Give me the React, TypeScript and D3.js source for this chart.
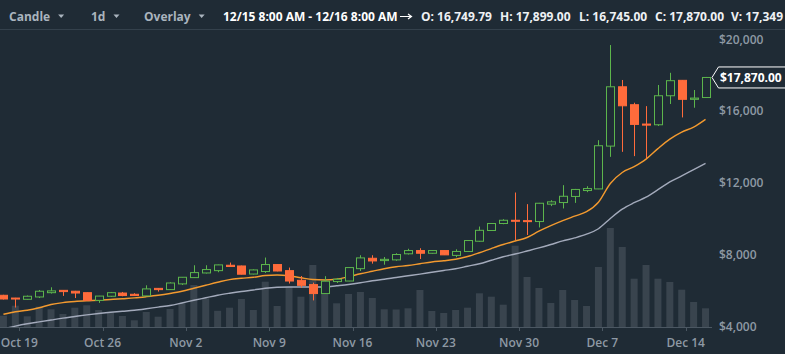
import React, { useEffect, useRef } from 'react';
import * as d3 from 'd3';

const W = 785;
const H = 354;

// daily candles, Oct 17 - Dec 15 2017
const firstDay = new Date(Date.UTC(2017, 9, 17));

const opens = [
  5714, 5560, 5490, 5620, 5860, 5990, 5940, 5860, 5430, 5660,
  5840, 5770, 5680, 6100, 6030, 6350, 6700, 6960, 7090, 7390,
  7350, 6900, 7040, 7430, 7090, 6550, 6310, 5810, 6480, 6510,
  7200, 7780, 7650, 7690, 8030, 8210, 8060, 8210, 7940, 8160,
  8730, 9330, 9720, 9900, 9880, 9830, 10800, 10890, 11230, 11560,
  11650, 14040, 17350, 16350, 15270, 15230, 16850, 17710, 16650, 16749.79,
];
const highs = [
  5740, 5570, 5700, 6010, 6160, 6000, 5960, 5870, 5680, 5900,
  5900, 5830, 6270, 6120, 6440, 6730, 7390, 7390, 7420, 7540,
  7370, 7160, 7820, 7450, 7260, 6790, 6420, 6780, 6680, 7280,
  7950, 7950, 7850, 8060, 8310, 8340, 8240, 8230, 8280, 8790,
  9550, 9740, 9960, 11450, 10800, 10870, 11020, 11860, 11650, 11800,
  14370, 19680, 17730, 16460, 16270, 17450, 18130, 17720, 17170, 17899,
];
const lows = [
  5480, 5030, 5470, 5560, 5810, 5680, 5560, 5420, 5290, 5620,
  5660, 5690, 5670, 5920, 6020, 6290, 6690, 6930, 7000, 7300,
  6880, 6880, 6960, 7050, 6370, 6140, 5430, 5800, 6400, 6500,
  7070, 7480, 7420, 7640, 7990, 7740, 8040, 7960, 7840, 8150,
  8700, 9320, 9680, 8790, 9080, 9500, 10690, 10560, 10870, 11470,
  11640, 13440, 13720, 13480, 13370, 15160, 16390, 15640, 16180, 16745,
];
const closes = [
  5507, 5510, 5660, 5940, 5960, 5920, 5840, 5430, 5670, 5860,
  5700, 5700, 6070, 6030, 6400, 6720, 6980, 7150, 7410, 7320,
  6890, 7130, 7430, 7070, 6510, 6270, 5810, 6500, 6610, 7260,
  7800, 7630, 7720, 7990, 8210, 8060, 8210, 7970, 8160, 8770,
  9340, 9720, 9900, 9860, 9830, 10850, 10930, 11240, 11620, 11670,
  14060, 17350, 16290, 15250, 15210, 16850, 17690, 16650, 16720, 17870,
];
const volumes = [
  10490, 19770, 9930, 18840, 16430, 12060, 17910, 20140, 15780, 13270,
  10210, 6220, 13920, 9560, 16700, 21990, 38980, 26630, 15030, 17910,
  25980, 15780, 42040, 19490, 37400, 28120, 57540, 42040, 21990, 30620,
  32480, 26910, 16430, 16240, 17350, 34340, 14850, 12990, 15780, 17910,
  31270, 28120, 20690, 75450, 46400, 36190, 22270, 34340, 25060, 19490,
  55680, 91870, 74240, 44820, 57540, 44820, 41760, 34610, 23200, 17349,
];
// moving averages as drawn on the chart
const maFast = [
  4653, 4792, 4876, 5016, 5200, 5306, 5368, 5407, 5435, 5479,
  5524, 5569, 5636, 5714, 5815, 5938, 6105, 6273, 6440, 6591,
  6664, 6720, 6815, 6848, 6803, 6692, 6591, 6569, 6608, 6748,
  6915, 7055, 7195, 7306, 7373, 7474, 7575, 7642, 7725, 7876,
  8089, 8323, 8547, 8742, 8938, 9290, 9597, 9876, 10128, 10379,
  10910, 11955, 12569, 12893, 13312, 13899, 14430, 14821, 15100, 15530,
];
const maSlow = [
  3842, 3993, 4122, 4228, 4334, 4440, 4530, 4619, 4697, 4764,
  4820, 4876, 4960, 5055, 5144, 5284, 5435, 5574, 5714, 5826,
  5926, 6010, 6105, 6161, 6178, 6178, 6178, 6178, 6245, 6317,
  6412, 6524, 6608, 6709, 6803, 6898, 6999, 7100, 7195, 7335,
  7474, 7670, 7865, 8016, 8184, 8357, 8547, 8748, 8915, 9122,
  9429, 9999, 10519, 10882, 11189, 11608, 12044, 12379, 12726, 13072,
];

const priceTicks = [4000, 8000, 12000, 16000, 20000];
const toolbarItems = ['Candle', '1d', 'Overlay'];
const rangeLabel = '12/15 8:00 AM - 12/16 8:00 AM';
const ohlcvLabels = ['O: 16,749.79', 'H: 17,899.00', 'L: 16,745.00', 'C: 17,870.00', 'V: 17,349'];

const BG = '#1f2b35';
const GREEN = '#5cb54c';
const RED = '#ff6b3b';
const FONT = '"Open Sans", "DejaVu Sans", sans-serif';

export default function App() {
  const ref = useRef<SVGSVGElement>(null);

  useEffect(() => {
    const svg = d3.select(ref.current);
    svg.selectAll('*').remove();

    const plotRight = 712;
    const plotTop = 30;
    const plotBottom = 327;

    const days = d3.range(opens.length).map(i => d3.utcDay.offset(firstDay, i));
    const x = d3.scaleUtc()
      .domain([new Date(Date.UTC(2017, 9, 19)), new Date(Date.UTC(2017, 11, 14))])
      .range([19.3, 685.7]);
    const cx = (i: number) => x(d3.utcHour.offset(days[i], 16));
    const y = d3.scaleLinear().domain([4000, 20000]).range([326, 39.3]);
    const yVol = d3.scaleLinear().domain([0, 92800]).range([plotBottom, plotBottom - 100]);

    svg.append('rect').attr('width', W).attr('height', H).attr('fill', BG);

    svg.append('defs').append('clipPath').attr('id', 'plot')
      .append('rect')
      .attr('x', 0).attr('y', plotTop)
      .attr('width', plotRight).attr('height', plotBottom - plotTop);

    // toolbar
    const bar = svg.append('g')
      .attr('font-family', FONT).attr('font-size', 12).attr('font-weight', 700);
    bar.append('line')
      .attr('x1', 0).attr('x2', W).attr('y1', 29.5).attr('y2', 29.5)
      .attr('stroke', '#34414c');

    const toolX = [9, 91, 144];
    toolbarItems.forEach((t, i) => {
      const txt = bar.append('text')
        .attr('x', toolX[i]).attr('y', 20.5)
        .attr('fill', '#aab4be').text(t);
      const end = toolX[i] + (txt.node() as SVGTextElement).getComputedTextLength() + 8;
      bar.append('path')
        .attr('d', `M${end},14.5 L${end + 6},14.5 L${end + 3},18 Z`)
        .attr('fill', '#aab4be');
    });

    bar.append('text').attr('x', 223).attr('y', 20.5).attr('fill', '#ffffff').text(rangeLabel);
    bar.append('path')
      .attr('d', 'M400,16.5 H411 M408,14 L411.5,16.5 L408,19')
      .attr('stroke', '#ffffff').attr('stroke-width', 1.2).attr('fill', 'none');

    const ohlcX = [421, 500, 579, 655, 731];
    ohlcvLabels.forEach((t, i) => {
      bar.append('text').attr('x', ohlcX[i]).attr('y', 20.5).attr('fill', '#eef1f4').text(t);
    });

    // volume
    const plot = svg.append('g').attr('clip-path', 'url(#plot)');
    plot.append('g').selectAll('rect')
      .data(volumes)
      .join('rect')
      .attr('x', (d, i) => cx(i) - 3.5)
      .attr('width', 7)
      .attr('y', d => yVol(d))
      .attr('height', d => plotBottom - yVol(d))
      .attr('fill', '#39444e');

    // moving averages
    const line = (vals: number[]) => d3.line<number>()
      .x((d, i) => cx(i))
      .y(d => y(d))
      .curve(d3.curveMonotoneX)(vals);

    plot.append('path').attr('d', line(maSlow))
      .attr('fill', 'none').attr('stroke', '#a3aabb').attr('stroke-width', 1.4);
    plot.append('path').attr('d', line(maFast))
      .attr('fill', 'none').attr('stroke', '#f39a2f').attr('stroke-width', 1.4);

    // candles
    const candles = plot.append('g').selectAll('g')
      .data(d3.range(opens.length))
      .join('g');

    candles.append('line')
      .attr('x1', i => Math.round(cx(i)) + 0.5)
      .attr('x2', i => Math.round(cx(i)) + 0.5)
      .attr('y1', i => y(highs[i]))
      .attr('y2', i => y(lows[i]))
      .attr('stroke', i => (closes[i] >= opens[i] ? GREEN : RED));

    candles.append('rect')
      .attr('x', i => Math.round(cx(i)) - 3.5)
      .attr('width', 8)
      .attr('y', i => y(Math.max(opens[i], closes[i])))
      .attr('height', i => Math.max(1, Math.abs(y(opens[i]) - y(closes[i]))))
      .attr('fill', i => (closes[i] >= opens[i] ? BG : RED))
      .attr('stroke', i => (closes[i] >= opens[i] ? GREEN : RED))
      .attr('stroke-width', 1);

    // x axis
    const xAxis = svg.append('g');
    xAxis.append('line')
      .attr('x1', 0).attr('x2', plotRight)
      .attr('y1', plotBottom + 0.5).attr('y2', plotBottom + 0.5)
      .attr('stroke', '#4b5762');
    const ticks = x.ticks(d3.utcThursday.every(1) as d3.TimeInterval);
    const fmt = d3.utcFormat('%b %-d');
    ticks.forEach(t => {
      const tx = Math.round(x(t)) + 0.5;
      xAxis.append('line')
        .attr('x1', tx).attr('x2', tx)
        .attr('y1', plotBottom).attr('y2', plotBottom + 4)
        .attr('stroke', '#4b5762');
      xAxis.append('text')
        .attr('x', x(t)).attr('y', 346.5)
        .attr('text-anchor', 'middle')
        .attr('font-family', FONT).attr('font-size', 12).attr('font-weight', 600)
        .attr('fill', '#8e99a4')
        .text(fmt(t));
    });

    // price axis
    const money = d3.format('$,.0f');
    priceTicks.forEach(p => {
      svg.append('text')
        .attr('x', 719).attr('y', y(p) + 4.5)
        .attr('font-family', FONT).attr('font-size', 12).attr('font-weight', 600)
        .attr('fill', '#8e99a4')
        .text(money(p));
    });

    // last price tag
    const last = closes[closes.length - 1];
    const ly = y(last);
    svg.append('path')
      .attr('d', `M712,${ly} L718.5,${ly - 10.5} H786 V${ly + 10.5} H718.5 Z`)
      .attr('fill', BG).attr('stroke', '#ffffff').attr('stroke-width', 1);
    svg.append('text')
      .attr('x', 720).attr('y', ly + 4.5)
      .attr('font-family', FONT).attr('font-size', 12).attr('font-weight', 700)
      .attr('fill', '#ffffff')
      .text(d3.format('$,.2f')(last));
  }, []);

  return (
    <svg
      ref={ref}
      width={W}
      height={H}
      style={{ position: 'absolute', left: 0, top: 0 }}
    />
  );
}
